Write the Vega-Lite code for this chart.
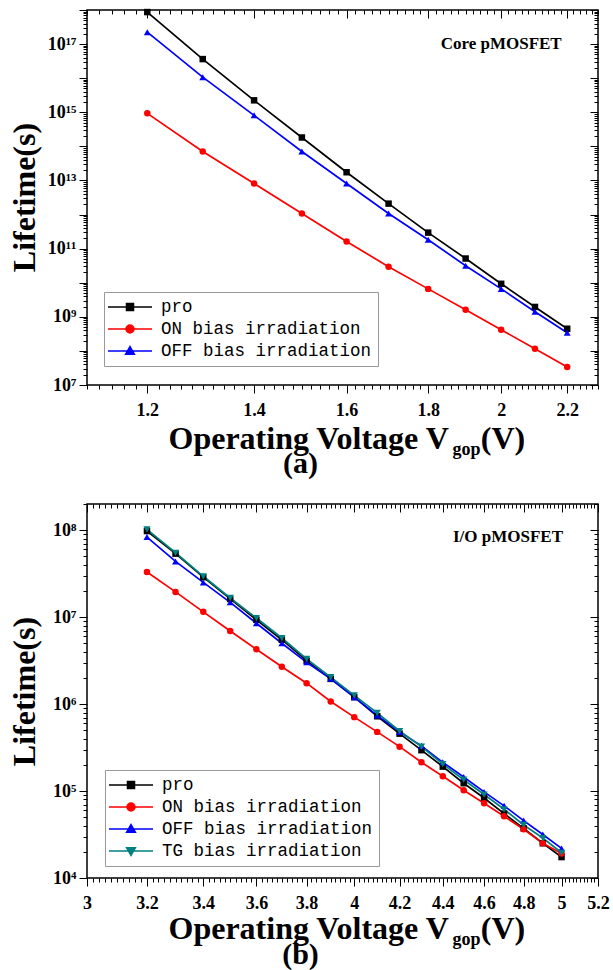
{
  "$schema": "https://vega.github.io/schema/vega-lite/v6.json",
  "background": "white",
  "padding": {"left": 7, "top": 7, "right": 5, "bottom": 5},
  "config": {
    "font": "Liberation Serif",
    "view": {"stroke": "black", "strokeWidth": 1.5},
    "axis": {"grid": false, "domain": false, "tickColor": "black", "tickWidth": 1, "labelColor": "black", "titleColor": "black", "labelFont": "Liberation Serif", "titleFont": "Liberation Serif", "labelFontWeight": "bold", "titleFontWeight": "bold", "labelFlush": false, "labelOverlap": false, "labelBound": false}
  },
  "resolve": {"scale": {"color": "independent", "x": "independent", "y": "independent"}, "legend": {"color": "independent"}},
  "datasets": {
    "core": [
      {"v": 1.2, "t": 8.7e17, "s": "pro"}, {"v": 1.3, "t": 3.63e16, "s": "pro"}, {"v": 1.4, "t": 2.24e15, "s": "pro"}, {"v": 1.5, "t": 1.82e14, "s": "pro"}, {"v": 1.6, "t": 1.74e13, "s": "pro"}, {"v": 1.7, "t": 2.09e12, "s": "pro"}, {"v": 1.8, "t": 2.95e11, "s": "pro"}, {"v": 1.9, "t": 5.13e10, "s": "pro"}, {"v": 2.0, "t": 9.3e9, "s": "pro"}, {"v": 2.1, "t": 1.95e9, "s": "pro"}, {"v": 2.2, "t": 4.47e8, "s": "pro"},
      {"v": 1.2, "t": 9.3e14, "s": "ON bias irradiation"}, {"v": 1.3, "t": 7.08e13, "s": "ON bias irradiation"}, {"v": 1.4, "t": 8.13e12, "s": "ON bias irradiation"}, {"v": 1.5, "t": 1.07e12, "s": "ON bias irradiation"}, {"v": 1.6, "t": 1.62e11, "s": "ON bias irradiation"}, {"v": 1.7, "t": 2.95e10, "s": "ON bias irradiation"}, {"v": 1.8, "t": 6.6e9, "s": "ON bias irradiation"}, {"v": 1.9, "t": 1.62e9, "s": "ON bias irradiation"}, {"v": 2.0, "t": 4.17e8, "s": "ON bias irradiation"}, {"v": 2.1, "t": 1.15e8, "s": "ON bias irradiation"}, {"v": 2.2, "t": 3.39e7, "s": "ON bias irradiation"},
      {"v": 1.2, "t": 2.24e17, "s": "OFF bias irradiation"}, {"v": 1.3, "t": 1.07e16, "s": "OFF bias irradiation"}, {"v": 1.4, "t": 8.13e14, "s": "OFF bias irradiation"}, {"v": 1.5, "t": 7.08e13, "s": "OFF bias irradiation"}, {"v": 1.6, "t": 8.13e12, "s": "OFF bias irradiation"}, {"v": 1.7, "t": 1.07e12, "s": "OFF bias irradiation"}, {"v": 1.8, "t": 1.82e11, "s": "OFF bias irradiation"}, {"v": 1.9, "t": 3.16e10, "s": "OFF bias irradiation"}, {"v": 2.0, "t": 6.6e9, "s": "OFF bias irradiation"}, {"v": 2.1, "t": 1.41e9, "s": "OFF bias irradiation"}, {"v": 2.2, "t": 3.39e8, "s": "OFF bias irradiation"}
    ],
    "io": [
      {"v": 3.2, "t": 9.77e7, "s": "pro"}, {"v": 3.3, "t": 5.37e7, "s": "pro"}, {"v": 3.4, "t": 2.88e7, "s": "pro"}, {"v": 3.5, "t": 1.62e7, "s": "pro"}, {"v": 3.6, "t": 9.33e6, "s": "pro"}, {"v": 3.7, "t": 5.5e6, "s": "pro"}, {"v": 3.8, "t": 3.16e6, "s": "pro"}, {"v": 3.9, "t": 1.95e6, "s": "pro"}, {"v": 4.0, "t": 1.2e6, "s": "pro"}, {"v": 4.1, "t": 7.24e5, "s": "pro"}, {"v": 4.2, "t": 4.57e5, "s": "pro"}, {"v": 4.3, "t": 2.95e5, "s": "pro"}, {"v": 4.4, "t": 1.91e5, "s": "pro"}, {"v": 4.5, "t": 1.23e5, "s": "pro"}, {"v": 4.6, "t": 8.32e4, "s": "pro"}, {"v": 4.7, "t": 5.5e4, "s": "pro"}, {"v": 4.8, "t": 3.72e4, "s": "pro"}, {"v": 4.9, "t": 2.51e4, "s": "pro"}, {"v": 5.0, "t": 1.74e4, "s": "pro"},
      {"v": 3.2, "t": 3.31e7, "s": "ON bias irradiation"}, {"v": 3.3, "t": 1.95e7, "s": "ON bias irradiation"}, {"v": 3.4, "t": 1.15e7, "s": "ON bias irradiation"}, {"v": 3.5, "t": 6.92e6, "s": "ON bias irradiation"}, {"v": 3.6, "t": 4.27e6, "s": "ON bias irradiation"}, {"v": 3.7, "t": 2.69e6, "s": "ON bias irradiation"}, {"v": 3.8, "t": 1.74e6, "s": "ON bias irradiation"}, {"v": 3.9, "t": 1.07e6, "s": "ON bias irradiation"}, {"v": 4.0, "t": 7.08e5, "s": "ON bias irradiation"}, {"v": 4.1, "t": 4.79e5, "s": "ON bias irradiation"}, {"v": 4.2, "t": 3.24e5, "s": "ON bias irradiation"}, {"v": 4.3, "t": 2.14e5, "s": "ON bias irradiation"}, {"v": 4.4, "t": 1.48e5, "s": "ON bias irradiation"}, {"v": 4.5, "t": 1.02e5, "s": "ON bias irradiation"}, {"v": 4.6, "t": 7.24e4, "s": "ON bias irradiation"}, {"v": 4.7, "t": 5.13e4, "s": "ON bias irradiation"}, {"v": 4.8, "t": 3.63e4, "s": "ON bias irradiation"}, {"v": 4.9, "t": 2.51e4, "s": "ON bias irradiation"}, {"v": 5.0, "t": 1.91e4, "s": "ON bias irradiation"},
      {"v": 3.2, "t": 8.32e7, "s": "OFF bias irradiation"}, {"v": 3.3, "t": 4.37e7, "s": "OFF bias irradiation"}, {"v": 3.4, "t": 2.51e7, "s": "OFF bias irradiation"}, {"v": 3.5, "t": 1.48e7, "s": "OFF bias irradiation"}, {"v": 3.6, "t": 8.51e6, "s": "OFF bias irradiation"}, {"v": 3.7, "t": 5.01e6, "s": "OFF bias irradiation"}, {"v": 3.8, "t": 3.02e6, "s": "OFF bias irradiation"}, {"v": 3.9, "t": 1.95e6, "s": "OFF bias irradiation"}, {"v": 4.0, "t": 1.2e6, "s": "OFF bias irradiation"}, {"v": 4.1, "t": 7.41e5, "s": "OFF bias irradiation"}, {"v": 4.2, "t": 4.79e5, "s": "OFF bias irradiation"}, {"v": 4.3, "t": 3.31e5, "s": "OFF bias irradiation"}, {"v": 4.4, "t": 2.14e5, "s": "OFF bias irradiation"}, {"v": 4.5, "t": 1.45e5, "s": "OFF bias irradiation"}, {"v": 4.6, "t": 9.77e4, "s": "OFF bias irradiation"}, {"v": 4.7, "t": 6.76e4, "s": "OFF bias irradiation"}, {"v": 4.8, "t": 4.57e4, "s": "OFF bias irradiation"}, {"v": 4.9, "t": 3.16e4, "s": "OFF bias irradiation"}, {"v": 5.0, "t": 2.19e4, "s": "OFF bias irradiation"},
      {"v": 3.2, "t": 1.02e8, "s": "TG bias irradiation"}, {"v": 3.3, "t": 5.5e7, "s": "TG bias irradiation"}, {"v": 3.4, "t": 2.95e7, "s": "TG bias irradiation"}, {"v": 3.5, "t": 1.66e7, "s": "TG bias irradiation"}, {"v": 3.6, "t": 9.77e6, "s": "TG bias irradiation"}, {"v": 3.7, "t": 5.75e6, "s": "TG bias irradiation"}, {"v": 3.8, "t": 3.31e6, "s": "TG bias irradiation"}, {"v": 3.9, "t": 2.04e6, "s": "TG bias irradiation"}, {"v": 4.0, "t": 1.26e6, "s": "TG bias irradiation"}, {"v": 4.1, "t": 7.94e5, "s": "TG bias irradiation"}, {"v": 4.2, "t": 4.9e5, "s": "TG bias irradiation"}, {"v": 4.3, "t": 3.24e5, "s": "TG bias irradiation"}, {"v": 4.4, "t": 2.04e5, "s": "TG bias irradiation"}, {"v": 4.5, "t": 1.35e5, "s": "TG bias irradiation"}, {"v": 4.6, "t": 9.12e4, "s": "TG bias irradiation"}, {"v": 4.7, "t": 6.17e4, "s": "TG bias irradiation"}, {"v": 4.8, "t": 4.07e4, "s": "TG bias irradiation"}, {"v": 4.9, "t": 2.88e4, "s": "TG bias irradiation"}, {"v": 5.0, "t": 1.95e4, "s": "TG bias irradiation"}
    ]
  },
  "spacing": 22,
  "vconcat": [
    {
      "width": 511,
      "height": 375,
      "title": {"text": "(a)", "orient": "bottom", "anchor": "middle", "dx": -42, "offset": -9, "font": "Liberation Serif", "fontSize": 30, "fontWeight": "bold", "color": "black"},
      "resolve": {"axis": {"x": "independent", "y": "independent"}},
      "layer": [
        {
          "data": {"name": "core"},
          "mark": {"type": "line", "strokeWidth": 1.7},
          "encoding": {
            "x": {"field": "v", "type": "quantitative",
              "scale": {"type": "log", "domain": [1.1, 2.3], "nice": false, "zero": false},
              "axis": {"orient": "bottom",
                "values": [1.1,1.12,1.14,1.16,1.18,1.2,1.22,1.24,1.26,1.28,1.3,1.32,1.34,1.36,1.38,1.4,1.42,1.44,1.46,1.48,1.5,1.52,1.54,1.56,1.58,1.6,1.62,1.64,1.66,1.68,1.7,1.72,1.74,1.76,1.78,1.8,1.82,1.84,1.86,1.88,1.9,1.92,1.94,1.96,1.98,2,2.02,2.04,2.06,2.08,2.1,2.12,2.14,2.16,2.18,2.2,2.22,2.24,2.26,2.28,2.3],
                "labelExpr": "indexof([1.2,1.4,1.6,1.8,2,2.2], datum.value) >= 0 ? format(datum.value, '.1~f') : ''",
                "labelFontSize": {"condition": {"test": "indexof([1.2,1.4,1.6,1.8,2,2.2], datum.value) >= 0", "value": 18}, "value": 0},
                "tickSize": {"condition": {"test": "indexof([1.2,1.4,1.6,1.8,2,2.2], datum.value) >= 0", "value": 8}, "value": 4},
                "labelPadding": 8,
                "title": "Operating Voltage V\u2003(V)", "titleFontSize": 32, "titleAlign": "left", "titleAnchor": "start", "titleX": 81, "titleY": 63, "titleBaseline": "alphabetic"}},
            "y": {"field": "t", "type": "quantitative",
              "scale": {"type": "log", "domain": [1e7, 1e18], "nice": false, "zero": false},
              "axis": {"orient": "left",
                "values": [1e7,2e7,3e7,4e7,5e7,6e7,7e7,8e7,9e7,1e8,2e8,3e8,4e8,5e8,6e8,7e8,8e8,9e8,1e9,2e9,3e9,4e9,5e9,6e9,7e9,8e9,9e9,1e10,2e10,3e10,4e10,5e10,6e10,7e10,8e10,9e10,1e11,2e11,3e11,4e11,5e11,6e11,7e11,8e11,9e11,1e12,2e12,3e12,4e12,5e12,6e12,7e12,8e12,9e12,1e13,2e13,3e13,4e13,5e13,6e13,7e13,8e13,9e13,1e14,2e14,3e14,4e14,5e14,6e14,7e14,8e14,9e14,1e15,2e15,3e15,4e15,5e15,6e15,7e15,8e15,9e15,1e16,2e16,3e16,4e16,5e16,6e16,7e16,8e16,9e16,1e17,2e17,3e17,4e17,5e17,6e17,7e17,8e17,9e17,1e18],
                "labelExpr": "datum.value == 1e7 ? '10⁷' : datum.value == 1e9 ? '10⁹' : datum.value == 1e11 ? '10¹¹' : datum.value == 1e13 ? '10¹³' : datum.value == 1e15 ? '10¹⁵' : datum.value == 1e17 ? '10¹⁷' : ''",
                "labelFontSize": {"condition": {"test": "indexof([1e7,1e9,1e11,1e13,1e15,1e17], datum.value) >= 0", "value": 18}, "value": 0},
                "tickSize": {"condition": {"test": "abs(log(datum.value)/LN10 - round(log(datum.value)/LN10)) < 0.001", "value": 8}, "value": 4},
                "labelPadding": 3,
                "title": "Lifetime(s)", "titleFontSize": 32, "titleAngle": 270, "titleAlign": "center", "titleAnchor": "middle", "titleX": -53, "titleY": 187, "titleBaseline": "alphabetic"}},
            "color": {"field": "s", "type": "nominal",
              "scale": {"domain": ["pro", "ON bias irradiation", "OFF bias irradiation"], "range": ["#000000", "#ff0000", "#0000ff"]},
              "legend": {"title": null, "orient": "none", "legendX": 17, "legendY": 282, "direction": "vertical",
                "strokeColor": "#999999", "fillColor": "white", "padding": 6,
                "labelFont": "Liberation Mono", "labelFontSize": 17.5, "labelColor": "black", "labelOffset": 22, "labelLimit": 400,
                "symbolSize": 256, "symbolOffset": 11, "symbolStrokeWidth": 1.5, "rowPadding": 4,
                "encode": {"symbols": {"update": {
                  "shape": {"signal": "datum.value == 'pro' ? 'M-2.75,0H2.75M-0.44,-0.44H0.44V0.44H-0.44Z' : datum.value == 'ON bias irradiation' ? 'M-2.75,0H2.75M-0.5,0A0.5,0.5 0 1,0 0.5,0A0.5,0.5 0 1,0 -0.5,0Z' : 'M-2.75,0H2.75M0,-0.55L0.55,0.4L-0.55,0.4Z'"},
                  "fill": {"signal": "datum.value == 'pro' ? '#000000' : datum.value == 'ON bias irradiation' ? '#ff0000' : '#0000ff'"},
                  "stroke": {"signal": "datum.value == 'pro' ? '#000000' : datum.value == 'ON bias irradiation' ? '#ff0000' : '#0000ff'"},
                  "strokeWidth": {"value": 1.5}, "opacity": {"value": 1}, "fillOpacity": {"value": 1}}}}}}
          }
        },
        {
          "data": {"name": "core"},
          "transform": [{"filter": "datum.s == 'pro'"}],
          "mark": {"type": "point", "shape": "square", "filled": true, "color": "#000000", "opacity": 1, "size": 42},
          "encoding": {
            "x": {"field": "v", "type": "quantitative", "scale": {"type": "log", "domain": [1.1, 2.3], "nice": false, "zero": false},
              "axis": {"orient": "bottom", "ticks": false, "labels": false, "domain": false, "title": "gop", "titleFontSize": 18, "titleAlign": "left", "titleAnchor": "start", "titleX": 365, "titleY": 69, "titleBaseline": "alphabetic"}},
            "y": {"field": "t", "type": "quantitative", "scale": {"type": "log", "domain": [1e7, 1e18], "nice": false, "zero": false}, "axis": null}
          }
        },
        {
          "data": {"name": "core"},
          "transform": [{"filter": "datum.s == 'ON bias irradiation'"}],
          "mark": {"type": "point", "shape": "circle", "filled": true, "color": "#ff0000", "opacity": 1, "size": 42},
          "encoding": {
            "x": {"field": "v", "type": "quantitative", "scale": {"type": "log", "domain": [1.1, 2.3], "nice": false, "zero": false}, "axis": null},
            "y": {"field": "t", "type": "quantitative", "scale": {"type": "log", "domain": [1e7, 1e18], "nice": false, "zero": false}, "axis": null}
          }
        },
        {
          "data": {"name": "core"},
          "transform": [{"filter": "datum.s == 'OFF bias irradiation'"}],
          "mark": {"type": "point", "shape": "triangle-up", "filled": true, "color": "#0000ff", "opacity": 1, "size": 48},
          "encoding": {
            "x": {"field": "v", "type": "quantitative", "scale": {"type": "log", "domain": [1.1, 2.3], "nice": false, "zero": false}, "axis": null},
            "y": {"field": "t", "type": "quantitative", "scale": {"type": "log", "domain": [1e7, 1e18], "nice": false, "zero": false}, "axis": null}
          }
        },
        {
          "data": {"values": [{"x": 2.0, "y": 1e17, "label": "Core pMOSFET"}]},
          "mark": {"type": "text", "font": "Liberation Serif", "fontWeight": "bold", "fontSize": 17, "align": "center", "baseline": "middle", "color": "black"},
          "encoding": {
            "x": {"field": "x", "type": "quantitative", "scale": {"type": "log", "domain": [1.1, 2.3], "nice": false, "zero": false},
              "axis": {"orient": "top", "labels": false, "title": null,
                "values": [1.1,1.12,1.14,1.16,1.18,1.2,1.22,1.24,1.26,1.28,1.3,1.32,1.34,1.36,1.38,1.4,1.42,1.44,1.46,1.48,1.5,1.52,1.54,1.56,1.58,1.6,1.62,1.64,1.66,1.68,1.7,1.72,1.74,1.76,1.78,1.8,1.82,1.84,1.86,1.88,1.9,1.92,1.94,1.96,1.98,2,2.02,2.04,2.06,2.08,2.1,2.12,2.14,2.16,2.18,2.2,2.22,2.24,2.26,2.28,2.3],
                "tickSize": {"condition": {"test": "indexof([1.2,1.4,1.6,1.8,2,2.2], datum.value) >= 0", "value": -8}, "value": -4}}},
            "y": {"field": "y", "type": "quantitative", "scale": {"type": "log", "domain": [1e7, 1e18], "nice": false, "zero": false},
              "axis": {"orient": "right", "labels": false, "title": null,
                "values": [1e7,2e7,3e7,4e7,5e7,6e7,7e7,8e7,9e7,1e8,2e8,3e8,4e8,5e8,6e8,7e8,8e8,9e8,1e9,2e9,3e9,4e9,5e9,6e9,7e9,8e9,9e9,1e10,2e10,3e10,4e10,5e10,6e10,7e10,8e10,9e10,1e11,2e11,3e11,4e11,5e11,6e11,7e11,8e11,9e11,1e12,2e12,3e12,4e12,5e12,6e12,7e12,8e12,9e12,1e13,2e13,3e13,4e13,5e13,6e13,7e13,8e13,9e13,1e14,2e14,3e14,4e14,5e14,6e14,7e14,8e14,9e14,1e15,2e15,3e15,4e15,5e15,6e15,7e15,8e15,9e15,1e16,2e16,3e16,4e16,5e16,6e16,7e16,8e16,9e16,1e17,2e17,3e17,4e17,5e17,6e17,7e17,8e17,9e17,1e18],
                "tickSize": {"condition": {"test": "abs(log(datum.value)/LN10 - round(log(datum.value)/LN10)) < 0.001", "value": -8}, "value": -4}}},
            "text": {"field": "label", "type": "nominal"}
          }
        }
      ]
    },
    {
      "width": 511,
      "height": 374,
      "title": {"text": "(b)", "orient": "bottom", "anchor": "middle", "dx": -42, "offset": -8, "font": "Liberation Serif", "fontSize": 30, "fontWeight": "bold", "color": "black"},
      "resolve": {"axis": {"x": "independent", "y": "independent"}},
      "layer": [
        {
          "data": {"name": "io"},
          "mark": {"type": "line", "strokeWidth": 1.7},
          "encoding": {
            "x": {"field": "v", "type": "quantitative",
              "scale": {"type": "log", "domain": [3, 5.2], "nice": false, "zero": false},
              "axis": {"orient": "bottom",
                "values": [3,3.02,3.04,3.06,3.08,3.1,3.12,3.14,3.16,3.18,3.2,3.22,3.24,3.26,3.28,3.3,3.32,3.34,3.36,3.38,3.4,3.42,3.44,3.46,3.48,3.5,3.52,3.54,3.56,3.58,3.6,3.62,3.64,3.66,3.68,3.7,3.72,3.74,3.76,3.78,3.8,3.82,3.84,3.86,3.88,3.9,3.92,3.94,3.96,3.98,4,4.02,4.04,4.06,4.08,4.1,4.12,4.14,4.16,4.18,4.2,4.22,4.24,4.26,4.28,4.3,4.32,4.34,4.36,4.38,4.4,4.42,4.44,4.46,4.48,4.5,4.52,4.54,4.56,4.58,4.6,4.62,4.64,4.66,4.68,4.7,4.72,4.74,4.76,4.78,4.8,4.82,4.84,4.86,4.88,4.9,4.92,4.94,4.96,4.98,5,5.02,5.04,5.06,5.08,5.1,5.12,5.14,5.16,5.18,5.2],
                "labelExpr": "indexof([3,3.2,3.4,3.6,3.8,4,4.2,4.4,4.6,4.8,5,5.2], datum.value) >= 0 ? format(datum.value, '.1~f') : ''",
                "labelFontSize": {"condition": {"test": "indexof([3,3.2,3.4,3.6,3.8,4,4.2,4.4,4.6,4.8,5,5.2], datum.value) >= 0", "value": 18}, "value": 0},
                "tickSize": {"condition": {"test": "indexof([3,3.2,3.4,3.6,3.8,4,4.2,4.4,4.6,4.8,5,5.2], datum.value) >= 0", "value": 8}, "value": 4},
                "labelPadding": 8,
                "title": "Operating Voltage V\u2003(V)", "titleFontSize": 32, "titleAlign": "left", "titleAnchor": "start", "titleX": 81, "titleY": 60, "titleBaseline": "alphabetic"}},
            "y": {"field": "t", "type": "quantitative",
              "scale": {"type": "log", "domain": [1e4, 2e8], "nice": false, "zero": false},
              "axis": {"orient": "left",
                "values": [1e4,2e4,3e4,4e4,5e4,6e4,7e4,8e4,9e4,1e5,2e5,3e5,4e5,5e5,6e5,7e5,8e5,9e5,1e6,2e6,3e6,4e6,5e6,6e6,7e6,8e6,9e6,1e7,2e7,3e7,4e7,5e7,6e7,7e7,8e7,9e7,1e8,2e8],
                "labelExpr": "datum.value == 1e4 ? '10⁴' : datum.value == 1e5 ? '10⁵' : datum.value == 1e6 ? '10⁶' : datum.value == 1e7 ? '10⁷' : datum.value == 1e8 ? '10⁸' : ''",
                "labelFontSize": {"condition": {"test": "indexof([1e4,1e5,1e6,1e7,1e8], datum.value) >= 0", "value": 18}, "value": 0},
                "tickSize": {"condition": {"test": "abs(log(datum.value)/LN10 - round(log(datum.value)/LN10)) < 0.001", "value": 8}, "value": 4},
                "labelPadding": 3,
                "title": "Lifetime(s)", "titleFontSize": 32, "titleAngle": 270, "titleAlign": "center", "titleAnchor": "middle", "titleX": -53, "titleY": 187, "titleBaseline": "alphabetic"}},
            "color": {"field": "s", "type": "nominal",
              "scale": {"domain": ["pro", "ON bias irradiation", "OFF bias irradiation", "TG bias irradiation"], "range": ["#000000", "#ff0000", "#0000ff", "#008080"]},
              "legend": {"title": null, "orient": "none", "legendX": 18, "legendY": 266, "direction": "vertical",
                "strokeColor": "#999999", "fillColor": "white", "padding": 6,
                "labelFont": "Liberation Mono", "labelFontSize": 17.5, "labelColor": "black", "labelOffset": 22, "labelLimit": 400,
                "symbolSize": 256, "symbolOffset": 11, "symbolStrokeWidth": 1.5, "rowPadding": 4,
                "encode": {"symbols": {"update": {
                  "shape": {"signal": "datum.value == 'pro' ? 'M-2.75,0H2.75M-0.44,-0.44H0.44V0.44H-0.44Z' : datum.value == 'ON bias irradiation' ? 'M-2.75,0H2.75M-0.5,0A0.5,0.5 0 1,0 0.5,0A0.5,0.5 0 1,0 -0.5,0Z' : datum.value == 'OFF bias irradiation' ? 'M-2.75,0H2.75M0,-0.55L0.55,0.4L-0.55,0.4Z' : 'M-2.75,0H2.75M0,0.55L0.55,-0.4L-0.55,-0.4Z'"},
                  "fill": {"signal": "datum.value == 'pro' ? '#000000' : datum.value == 'ON bias irradiation' ? '#ff0000' : datum.value == 'OFF bias irradiation' ? '#0000ff' : '#008080'"},
                  "stroke": {"signal": "datum.value == 'pro' ? '#000000' : datum.value == 'ON bias irradiation' ? '#ff0000' : datum.value == 'OFF bias irradiation' ? '#0000ff' : '#008080'"},
                  "strokeWidth": {"value": 1.5}, "opacity": {"value": 1}, "fillOpacity": {"value": 1}}}}}}
          }
        },
        {
          "data": {"name": "io"},
          "transform": [{"filter": "datum.s == 'pro'"}],
          "mark": {"type": "point", "shape": "square", "filled": true, "color": "#000000", "opacity": 1, "size": 42},
          "encoding": {
            "x": {"field": "v", "type": "quantitative", "scale": {"type": "log", "domain": [3, 5.2], "nice": false, "zero": false},
              "axis": {"orient": "bottom", "ticks": false, "labels": false, "domain": false, "title": "gop", "titleFontSize": 18, "titleAlign": "left", "titleAnchor": "start", "titleX": 365, "titleY": 66, "titleBaseline": "alphabetic"}},
            "y": {"field": "t", "type": "quantitative", "scale": {"type": "log", "domain": [1e4, 2e8], "nice": false, "zero": false}, "axis": null}
          }
        },
        {
          "data": {"name": "io"},
          "transform": [{"filter": "datum.s == 'ON bias irradiation'"}],
          "mark": {"type": "point", "shape": "circle", "filled": true, "color": "#ff0000", "opacity": 1, "size": 42},
          "encoding": {
            "x": {"field": "v", "type": "quantitative", "scale": {"type": "log", "domain": [3, 5.2], "nice": false, "zero": false}, "axis": null},
            "y": {"field": "t", "type": "quantitative", "scale": {"type": "log", "domain": [1e4, 2e8], "nice": false, "zero": false}, "axis": null}
          }
        },
        {
          "data": {"name": "io"},
          "transform": [{"filter": "datum.s == 'OFF bias irradiation'"}],
          "mark": {"type": "point", "shape": "triangle-up", "filled": true, "color": "#0000ff", "opacity": 1, "size": 48},
          "encoding": {
            "x": {"field": "v", "type": "quantitative", "scale": {"type": "log", "domain": [3, 5.2], "nice": false, "zero": false}, "axis": null},
            "y": {"field": "t", "type": "quantitative", "scale": {"type": "log", "domain": [1e4, 2e8], "nice": false, "zero": false}, "axis": null}
          }
        },
        {
          "data": {"name": "io"},
          "transform": [{"filter": "datum.s == 'TG bias irradiation'"}],
          "mark": {"type": "point", "shape": "triangle-down", "filled": true, "color": "#008080", "opacity": 1, "size": 52},
          "encoding": {
            "x": {"field": "v", "type": "quantitative", "scale": {"type": "log", "domain": [3, 5.2], "nice": false, "zero": false}, "axis": null},
            "y": {"field": "t", "type": "quantitative", "scale": {"type": "log", "domain": [1e4, 2e8], "nice": false, "zero": false}, "axis": null}
          }
        },
        {
          "data": {"values": [{"x": 4.72, "y": 8.3e7, "label": "I/O pMOSFET"}]},
          "mark": {"type": "text", "font": "Liberation Serif", "fontWeight": "bold", "fontSize": 17, "align": "center", "baseline": "middle", "color": "black"},
          "encoding": {
            "x": {"field": "x", "type": "quantitative", "scale": {"type": "log", "domain": [3, 5.2], "nice": false, "zero": false},
              "axis": {"orient": "top", "labels": false, "title": null,
                "values": [3,3.02,3.04,3.06,3.08,3.1,3.12,3.14,3.16,3.18,3.2,3.22,3.24,3.26,3.28,3.3,3.32,3.34,3.36,3.38,3.4,3.42,3.44,3.46,3.48,3.5,3.52,3.54,3.56,3.58,3.6,3.62,3.64,3.66,3.68,3.7,3.72,3.74,3.76,3.78,3.8,3.82,3.84,3.86,3.88,3.9,3.92,3.94,3.96,3.98,4,4.02,4.04,4.06,4.08,4.1,4.12,4.14,4.16,4.18,4.2,4.22,4.24,4.26,4.28,4.3,4.32,4.34,4.36,4.38,4.4,4.42,4.44,4.46,4.48,4.5,4.52,4.54,4.56,4.58,4.6,4.62,4.64,4.66,4.68,4.7,4.72,4.74,4.76,4.78,4.8,4.82,4.84,4.86,4.88,4.9,4.92,4.94,4.96,4.98,5,5.02,5.04,5.06,5.08,5.1,5.12,5.14,5.16,5.18,5.2],
                "tickSize": {"condition": {"test": "indexof([3,3.2,3.4,3.6,3.8,4,4.2,4.4,4.6,4.8,5,5.2], datum.value) >= 0", "value": -8}, "value": -4}}},
            "y": {"field": "y", "type": "quantitative", "scale": {"type": "log", "domain": [1e4, 2e8], "nice": false, "zero": false},
              "axis": {"orient": "right", "labels": false, "title": null,
                "values": [1e4,2e4,3e4,4e4,5e4,6e4,7e4,8e4,9e4,1e5,2e5,3e5,4e5,5e5,6e5,7e5,8e5,9e5,1e6,2e6,3e6,4e6,5e6,6e6,7e6,8e6,9e6,1e7,2e7,3e7,4e7,5e7,6e7,7e7,8e7,9e7,1e8,2e8],
                "tickSize": {"condition": {"test": "abs(log(datum.value)/LN10 - round(log(datum.value)/LN10)) < 0.001", "value": -8}, "value": -4}}},
            "text": {"field": "label", "type": "nominal"}
          }
        }
      ]
    }
  ]
}
